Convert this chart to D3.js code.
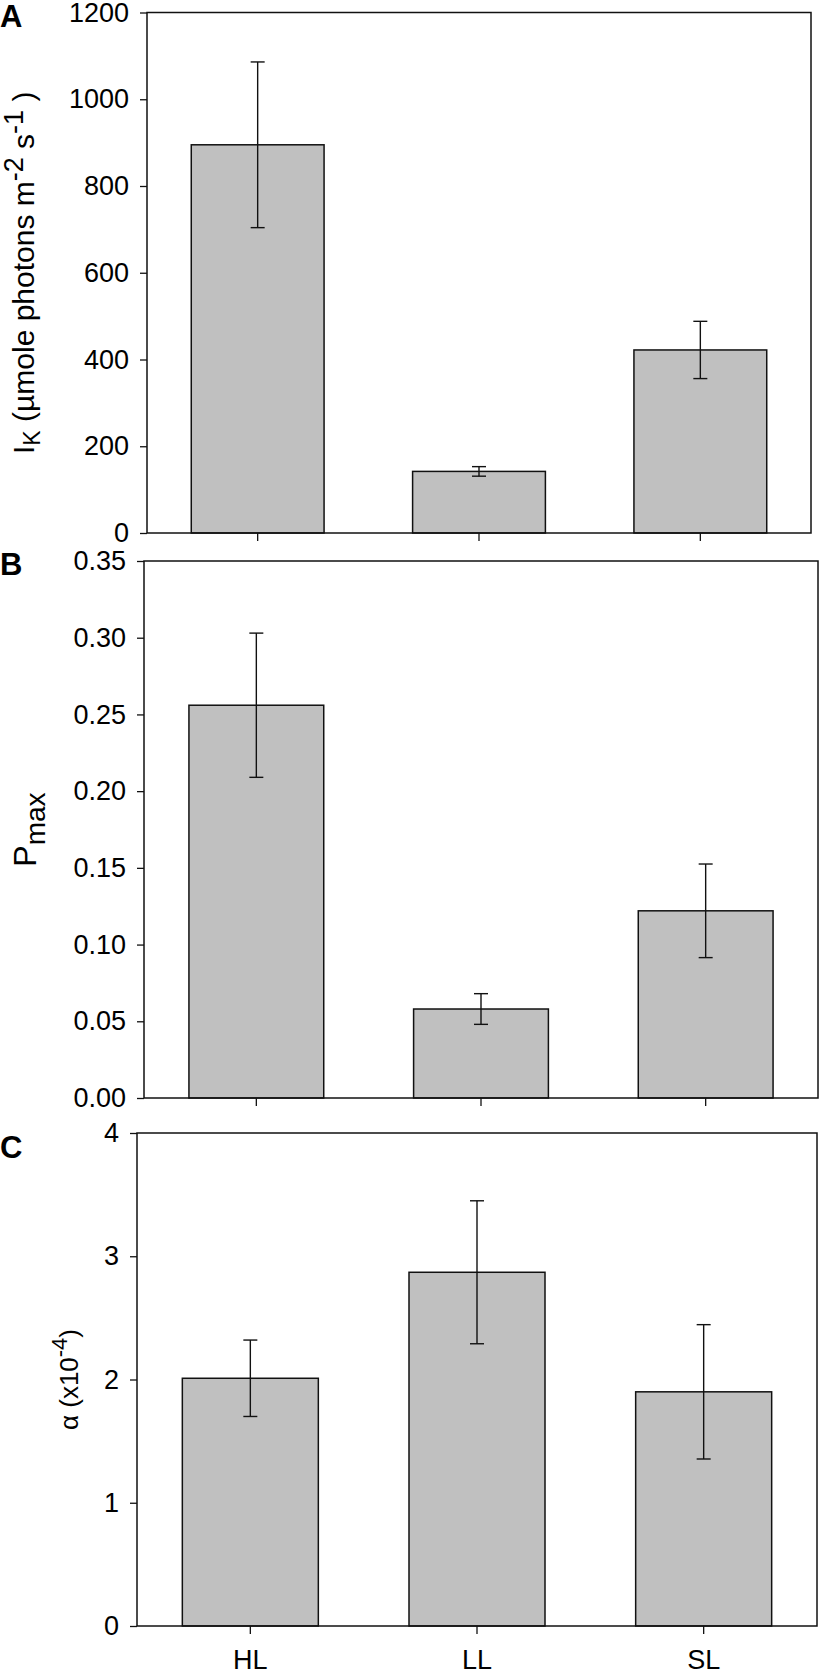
<!DOCTYPE html>
<html>
<head>
<meta charset="utf-8">
<script src="https://cdn.jsdelivr.net/npm/d3@7"></script>
<style>
  body { margin: 0; background: #fff; }
  svg { display: block; font-family: "Liberation Sans", Arial, sans-serif; }
</style>
</head>
<body>
<div id="chart"></div>
<script>
// categories and values
const categories = ["HL", "LL", "SL"];

const ikMean = [895, 142, 422];
const ikErr = [191, 11, 66];
const ikTicks = [0, 200, 400, 600, 800, 1000, 1200];

const pmaxMean = [0.256, 0.058, 0.122];
const pmaxErr = [0.047, 0.010, 0.0305];
const pmaxTicks = [0, 0.05, 0.10, 0.15, 0.20, 0.25, 0.30, 0.35];

const alphaMean = [2.01, 2.87, 1.90];
const alphaErr = [0.31, 0.58, 0.545];
const alphaTicks = [0, 1, 2, 3, 4];

const svg_width = 826, svg_height = 1675;

const svg = d3.select("#chart")
    .append("svg")
    .attr("width", svg_width)
    .attr("height", svg_height);

// one entry per panel, frame boxes in page pixels
const panels = [
    { letter: "A", letterY: 27, mean: ikMean, err: ikErr, ticks: ikTicks, fmt: d3.format("d"),
      box: { left: 147, right: 811, top: 12.5, bottom: 533 }, title: "ik", titleX: 34 },
    { letter: "B", letterY: 575, mean: pmaxMean, err: pmaxErr, ticks: pmaxTicks, fmt: d3.format(".2f"),
      box: { left: 144, right: 818, top: 561, bottom: 1098 }, title: "pmax", titleX: 36 },
    { letter: "C", letterY: 1158, mean: alphaMean, err: alphaErr, ticks: alphaTicks, fmt: d3.format("d"),
      box: { left: 137, right: 817, top: 1133, bottom: 1626 }, title: "alpha", titleX: 78 }
];

panels.forEach((p, pi) => {
    const b = p.box;
    const x = d3.scaleBand()
        .domain(categories)
        .range([b.left, b.right])
        .paddingInner(0.4)
        .paddingOuter(0.2);
    const y = d3.scaleLinear()
        .domain([p.ticks[0], p.ticks[p.ticks.length - 1]])
        .range([b.bottom, b.top]);

    const g = svg.append("g");

    // bars
    g.selectAll("rect.bar")
        .data(categories)
        .join("rect")
            .attr("class", "bar")
            .attr("x", d => x(d))
            .attr("y", (d, i) => y(p.mean[i]))
            .attr("width", x.bandwidth())
            .attr("height", (d, i) => y(0) - y(p.mean[i]))
            .attr("fill", "#c0c0c0")
            .attr("stroke", "#111")
            .attr("stroke-width", 1.5);

    // error bars
    const eb = g.append("g")
        .attr("stroke", "#111")
        .attr("stroke-width", 1.4)
        .selectAll("g")
        .data(categories)
        .join("g")
            .attr("transform", d => `translate(${x(d) + x.bandwidth() / 2},0)`);
    eb.append("line")
        .attr("y1", (d, i) => y(p.mean[i] + p.err[i]))
        .attr("y2", (d, i) => y(p.mean[i] - p.err[i]));
    eb.append("line")
        .attr("x1", -7).attr("x2", 7)
        .attr("y1", (d, i) => y(p.mean[i] + p.err[i]))
        .attr("y2", (d, i) => y(p.mean[i] + p.err[i]));
    eb.append("line")
        .attr("x1", -7).attr("x2", 7)
        .attr("y1", (d, i) => y(p.mean[i] - p.err[i]))
        .attr("y2", (d, i) => y(p.mean[i] - p.err[i]));

    // frame
    g.append("rect")
        .attr("x", b.left)
        .attr("y", b.top)
        .attr("width", b.right - b.left)
        .attr("height", b.bottom - b.top)
        .attr("fill", "none")
        .attr("stroke", "#111")
        .attr("stroke-width", 1.5);

    // y axis
    const yAxis = g.append("g")
        .attr("transform", `translate(${b.left},0)`)
        .call(d3.axisLeft(y).tickValues(p.ticks).tickFormat(p.fmt).tickSize(7).tickPadding(11));
    yAxis.select(".domain").remove();
    yAxis.selectAll("line").attr("stroke", "#111").attr("stroke-width", 1.3);
    yAxis.selectAll("text")
        .attr("fill", "#000")
        .style("font-size", "27px");

    // x axis
    const xAxis = g.append("g")
        .attr("transform", `translate(0,${b.bottom})`)
        .call(d3.axisBottom(x).tickSize(8).tickPadding(16));
    xAxis.select(".domain").remove();
    xAxis.selectAll("line").attr("stroke", "#111").attr("stroke-width", 1.3);
    xAxis.selectAll("text")
        .attr("fill", "#000")
        .style("font-size", "27px")
        .style("display", pi === panels.length - 1 ? null : "none");

    // panel letter
    svg.append("text")
        .attr("x", 0)
        .attr("y", p.letterY)
        .attr("font-weight", "bold")
        .style("font-size", "31px")
        .text(p.letter);

    // axis title
    const cy = (b.top + b.bottom) / 2;
    const t = svg.append("text")
        .attr("transform", `translate(${p.titleX},${cy}) rotate(-90)`)
        .attr("text-anchor", "middle")
        .attr("fill", "#000");

    if (p.title === "ik") {
        t.style("font-size", "30px");
        t.append("tspan").text("I");
        t.append("tspan").attr("dy", 6).style("font-size", "23px").text("K");
        t.append("tspan").attr("dy", -6).text(" (\u00b5mole photons m");
        t.append("tspan").attr("dy", -11).style("font-size", "27px").text("-2");
        t.append("tspan").attr("dy", 11).text(" s");
        t.append("tspan").attr("dy", -11).style("font-size", "27px").text("-1");
        t.append("tspan").attr("dy", 11).text(" )");
    } else if (p.title === "pmax") {
        t.style("font-size", "32px");
        t.append("tspan").text("P");
        t.append("tspan").attr("dy", 9).style("font-size", "28px").text("max");
    } else {
        t.style("font-size", "26px");
        t.append("tspan").text("\u03b1 (x10");
        t.append("tspan").attr("dy", -11).style("font-size", "22px").text("-4");
        t.append("tspan").attr("dy", 11).text(")");
    }
});
</script>
</body>
</html>
